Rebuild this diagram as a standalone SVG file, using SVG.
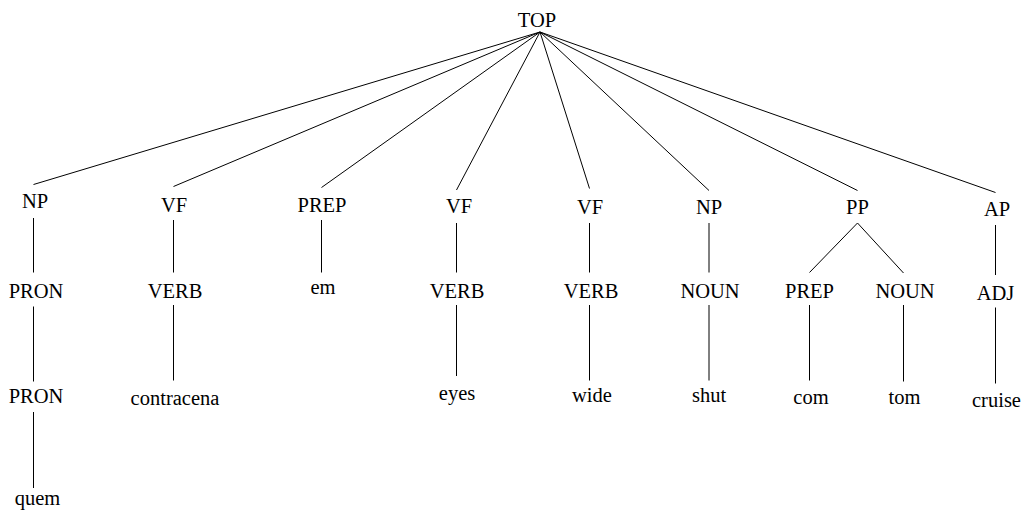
<svg xmlns="http://www.w3.org/2000/svg" width="1032" height="511" viewBox="0 0 1032 511">
  <style>
    .edges line { stroke: #000; stroke-width: 1; fill: none; }
  </style>
  <rect width="1032" height="511" fill="#fff"/>

  <!-- connectors -->
  <g id="edges" class="edges">
    <!-- TOP to phrases -->
    <line x1="540" y1="32" x2="33.5" y2="184.5"/>
    <line x1="540" y1="32" x2="173.5" y2="186.5"/>
    <line x1="540" y1="32" x2="321.5" y2="187.5"/>
    <line x1="540" y1="32" x2="456.5" y2="190"/>
    <line x1="540" y1="32" x2="589.5" y2="188.5"/>
    <line x1="540" y1="32" x2="709" y2="190.5"/>
    <line x1="540" y1="32" x2="857.5" y2="190.5"/>
    <line x1="540" y1="32" x2="995.5" y2="192.5"/>
    <!-- phrases to tags -->
    <line x1="33.5" y1="218" x2="33.5" y2="272.5"/>
    <line x1="173.5" y1="220" x2="173.5" y2="272.5"/>
    <line x1="321.5" y1="220" x2="321.5" y2="272.5"/>
    <line x1="456.5" y1="223" x2="456.5" y2="272.5"/>
    <line x1="589.5" y1="223" x2="589.5" y2="272.5"/>
    <line x1="709" y1="223" x2="709" y2="272.5"/>
    <line x1="857.5" y1="223" x2="809.5" y2="272.5"/>
    <line x1="857.5" y1="223" x2="903.5" y2="273"/>
    <line x1="995.5" y1="225" x2="995.5" y2="275"/>
    <!-- tags to words -->
    <line x1="33.5" y1="306.5" x2="33.5" y2="381.5"/>
    <line x1="173.5" y1="305" x2="173.5" y2="380.5"/>
    <line x1="456.5" y1="305" x2="456.5" y2="376"/>
    <line x1="589.5" y1="305" x2="589.5" y2="380.5"/>
    <line x1="709" y1="305" x2="709" y2="380.5"/>
    <line x1="809.5" y1="305" x2="809.5" y2="380.5"/>
    <line x1="903.5" y1="305" x2="903.5" y2="381.5"/>
    <line x1="995.5" y1="307.5" x2="995.5" y2="383.5"/>
    <!-- PRON to word -->
    <line x1="33.5" y1="412" x2="33.5" y2="488"/>
  </g>

  <g font-size="20.5" fill="#000" text-anchor="middle">
  <g id="n-top"><text font-family="Liberation Serif" x="537" y="27">TOP</text></g>

  <g id="n-np1"><text font-family="Liberation Serif" x="35" y="208">NP</text></g>
  <g id="n-vf1"><text font-family="Liberation Serif" x="174" y="212">VF</text></g>
  <g id="n-prep1"><text font-family="Liberation Serif" x="322" y="212">PREP</text></g>
  <g id="n-vf2"><text font-family="Liberation Serif" x="459" y="213">VF</text></g>
  <g id="n-vf3"><text font-family="Liberation Serif" x="590" y="214">VF</text></g>
  <g id="n-np2"><text font-family="Liberation Serif" x="709" y="214">NP</text></g>
  <g id="n-pp"><text font-family="Liberation Serif" x="857.5" y="214">PP</text></g>
  <g id="n-ap"><text font-family="Liberation Serif" x="997" y="216">AP</text></g>

  <g id="n-pron1"><text font-family="Liberation Serif" x="36" y="297.5">PRON</text></g>
  <g id="n-verb1"><text font-family="Liberation Serif" x="175" y="297.5">VERB</text></g>
  <g id="n-em"><text font-family="Liberation Serif" x="323" y="294">em</text></g>
  <g id="n-verb2"><text font-family="Liberation Serif" x="457" y="297.5">VERB</text></g>
  <g id="n-verb3"><text font-family="Liberation Serif" x="591" y="297.5">VERB</text></g>
  <g id="n-noun1"><text font-family="Liberation Serif" x="710" y="297.5">NOUN</text></g>
  <g id="n-prep2"><text font-family="Liberation Serif" x="809.5" y="297.5">PREP</text></g>
  <g id="n-noun2"><text font-family="Liberation Serif" x="905" y="297.5">NOUN</text></g>
  <g id="n-adj"><text font-family="Liberation Serif" x="995.5" y="300">ADJ</text></g>

  <g id="n-pron2"><text font-family="Liberation Serif" x="36" y="402.5">PRON</text></g>
  <g id="n-contracena"><text font-family="Liberation Serif" x="175" y="405">contracena</text></g>
  <g id="n-eyes"><text font-family="Liberation Serif" x="457" y="400">eyes</text></g>
  <g id="n-wide"><text font-family="Liberation Serif" x="592" y="401.5">wide</text></g>
  <g id="n-shut"><text font-family="Liberation Serif" x="709" y="401.5">shut</text></g>
  <g id="n-com"><text font-family="Liberation Serif" x="811" y="403.5">com</text></g>
  <g id="n-tom"><text font-family="Liberation Serif" x="904.5" y="403.5">tom</text></g>
  <g id="n-cruise"><text font-family="Liberation Serif" x="996.5" y="406.5">cruise</text></g>

  <g id="n-quem"><text font-family="Liberation Serif" x="37.5" y="505">quem</text></g>
  </g>
</svg>
